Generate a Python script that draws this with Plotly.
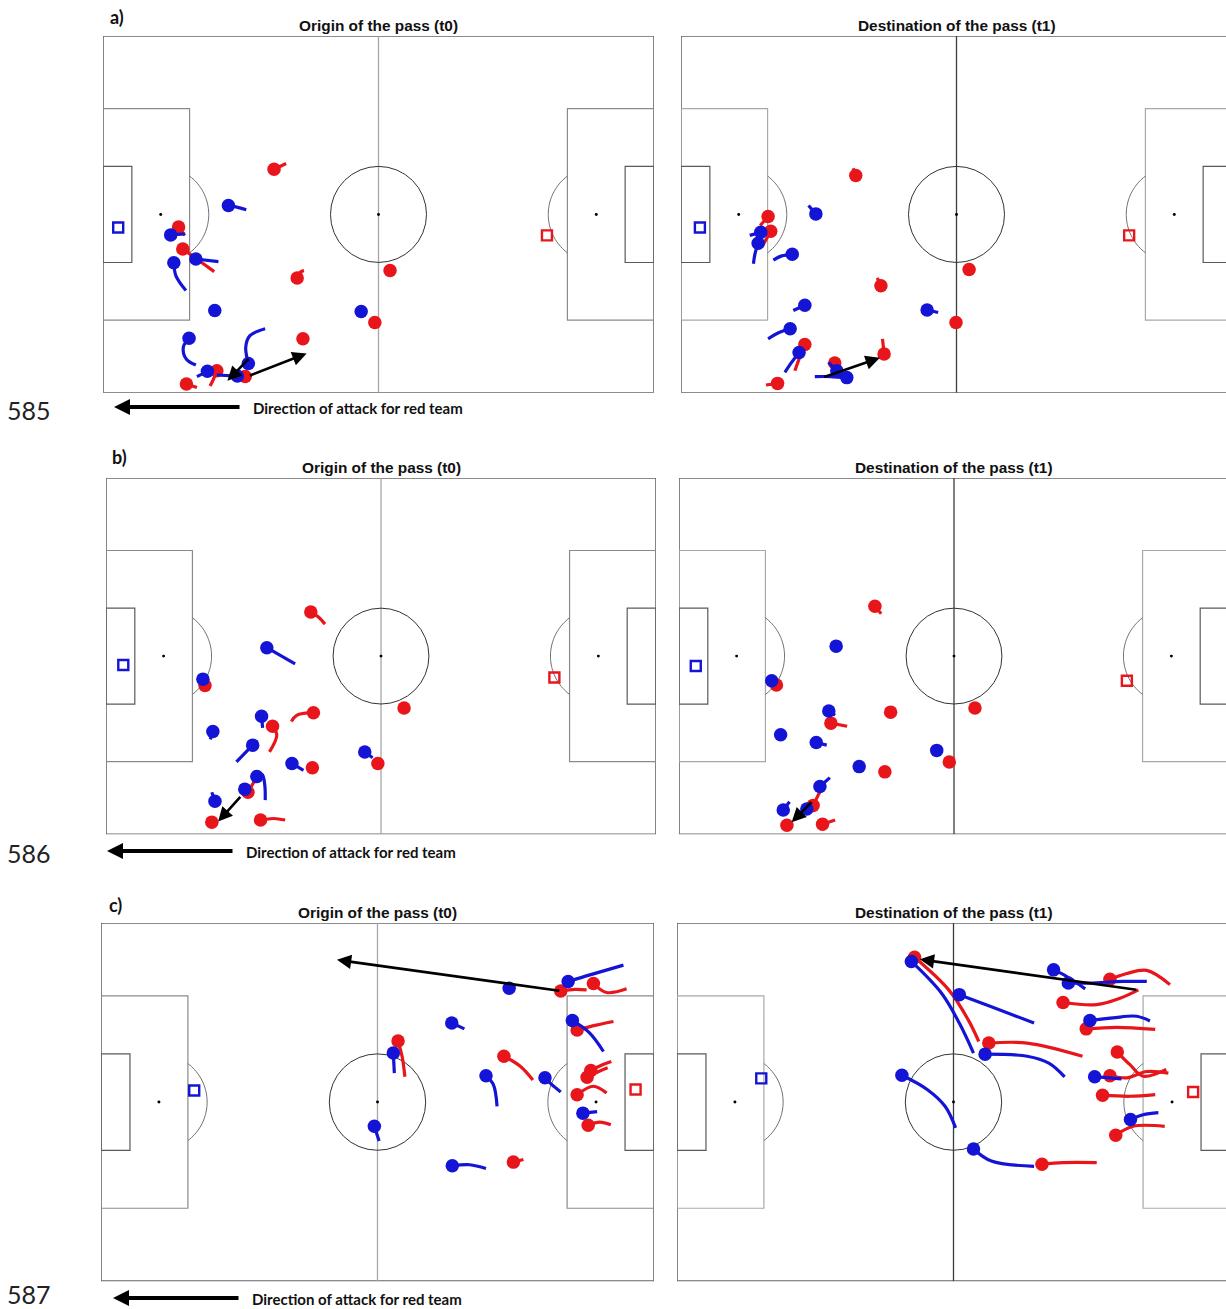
import numpy as np
import plotly.graph_objects as go

W, H = 1226, 1309
RED = '#e8161b'
BLUE = '#1414d6'
PITCH_L, PITCH_W = 105.0, 68.0

# ---------------------------------------------------------------------------
# Player tracks (metres, y measured from the top touchline).
# Each track starts at the player's position; the rest is the recent path.
# ---------------------------------------------------------------------------

# a) origin (t0)
A0_RED = [
    [(32.6, 25.4), (34.9, 24.3)],
    [(14.4, 36.4), (15.6, 38.0)],
    [(15.2, 40.6), (18.0, 42.6), (21.2, 44.9)],
    [(37.0, 46.1), (37.6, 45.0), (38.3, 44.7)],
    [(54.7, 44.7)],
    [(51.8, 54.6)],
    [(38.1, 57.7)],
    [(21.7, 63.8), (21.0, 65.5), (20.4, 66.7)],
    [(15.9, 66.3), (17.9, 67.0)],
    [(27.1, 64.9)],
]
A0_BLUE = [
    [(23.9, 32.3), (25.5, 32.6), (27.3, 33.1)],
    [(12.9, 37.9), (15.6, 37.7)],
    [(17.7, 42.5), (22.0, 43.0)],
    [(13.5, 43.2), (13.9, 45.7), (15.8, 48.5)],
    [(21.3, 52.3)],
    [(49.2, 52.5)],
    [(16.4, 57.6), (15.3, 59.3), (15.9, 61.6), (17.7, 62.7)],
    [(27.7, 62.4), (27.2, 59.3), (28.0, 57.1), (30.9, 55.8)],
    [(19.9, 63.9), (17.9, 64.9)],
    [(25.6, 64.8), (21.7, 64.6)],
]
A0_PASSES = [((28.0, 61.3), (23.7, 65.7)), ((27.7, 64.8), (38.8, 60.5))]
A0_KEEPERS = {'blue': (2.9, 36.5), 'red': (84.6, 38.0)}

# a) destination (t1)
A1_RED = [
    [(33.3, 26.6), (32.8, 25.2)],
    [(16.6, 34.4), (15.1, 36.1)],
    [(17.1, 37.2), (16.2, 38.8), (15.4, 40.2)],
    [(38.1, 47.6), (37.4, 46.1)],
    [(54.9, 44.5)],
    [(52.4, 54.6)],
    [(23.6, 58.8), (22.6, 61.3), (21.7, 63.8)],
    [(38.7, 60.6), (38.4, 57.7)],
    [(29.3, 62.3), (29.0, 63.5)],
    [(18.4, 66.2), (16.2, 66.5)],
]
A1_BLUE = [
    [(25.7, 33.9), (24.3, 32.3)],
    [(15.2, 37.4), (13.1, 38.0)],
    [(14.7, 39.5), (14.1, 41.5), (13.8, 43.4)],
    [(21.2, 41.6), (19.2, 41.9), (17.6, 42.7)],
    [(46.9, 52.2), (49.0, 52.7)],
    [(23.6, 51.3), (21.4, 52.3)],
    [(20.8, 55.8), (18.5, 56.6), (16.6, 57.7)],
    [(22.5, 60.3), (21.0, 62.3), (19.8, 64.1)],
    [(29.7, 63.8), (28.1, 62.2)],
    [(31.6, 65.1), (28.5, 64.9), (25.5, 64.9)],
]
A1_PASSES = [((27.0, 65.1), (37.9, 61.3))]
A1_KEEPERS = {'blue': (3.6, 36.5), 'red': (85.4, 38.0)}

# b) origin (t0)
B0_RED = [
    [(39.1, 25.6), (40.5, 26.5), (41.8, 27.9)],
    [(18.9, 39.6)],
    [(31.8, 47.4), (32.6, 49.1), (31.2, 52.3)],
    [(39.6, 44.8), (36.4, 45.3), (35.4, 46.5)],
    [(39.4, 55.3)],
    [(51.9, 54.5), (52.2, 55.3)],
    [(56.9, 43.9)],
    [(27.1, 60.0), (28.6, 57.4)],
    [(20.2, 65.7), (19.2, 66.2)],
    [(29.5, 65.3), (32.0, 65.0), (34.2, 65.3)],
]
B0_BLUE = [
    [(30.7, 32.4), (36.1, 35.5)],
    [(18.5, 38.4)],
    [(29.7, 45.5), (29.9, 47.7)],
    [(20.4, 48.4), (19.9, 49.9)],
    [(28.0, 51.0), (24.9, 54.2)],
    [(35.5, 54.5), (37.7, 55.8)],
    [(49.4, 52.3), (50.9, 53.4)],
    [(28.8, 57.0), (29.8, 56.6), (30.3, 58.5), (30.4, 61.5)],
    [(26.5, 59.4)],
    [(20.8, 61.7), (20.2, 60.0)],
]
B0_PASSES = [((25.9, 60.6), (21.4, 65.6))]
B0_KEEPERS = {'blue': (3.3, 35.7), 'red': (85.6, 38.1)}

# b) destination (t1)
B1_RED = [
    [(37.4, 24.5), (38.6, 25.9)],
    [(18.6, 39.5)],
    [(29.0, 46.8), (32.1, 47.4)],
    [(40.4, 44.7)],
    [(39.3, 56.1)],
    [(51.6, 54.2)],
    [(56.5, 43.9)],
    [(25.6, 62.5), (26.9, 59.9)],
    [(20.6, 66.3)],
    [(27.4, 66.1), (29.8, 65.3)],
]
B1_BLUE = [
    [(30.0, 32.1)],
    [(17.7, 38.7)],
    [(28.6, 44.5), (29.8, 45.3)],
    [(19.4, 49.0)],
    [(26.2, 50.5), (28.2, 51.0)],
    [(34.4, 55.1), (35.0, 54.6)],
    [(49.2, 52.0)],
    [(26.9, 58.9), (28.8, 57.2)],
    [(24.4, 63.2)],
    [(19.9, 63.4), (21.1, 61.8)],
]
B1_PASSES = [((25.6, 61.6), (21.5, 65.7))]
B1_KEEPERS = {'blue': (3.2, 35.9), 'red': (85.5, 38.7)}

# c) origin (t0)
C0_RED = [
    [(87.3, 12.9), (90.0, 12.6), (92.2, 12.7)],
    [(93.5, 11.5), (96.0, 13.2), (99.8, 12.5)],
    [(90.4, 20.3), (94.0, 19.4), (97.3, 18.7)],
    [(76.5, 25.3), (79.6, 27.2), (82.0, 29.8)],
    [(93.0, 28.0), (95.0, 27.0), (96.9, 26.3)],
    [(92.3, 29.3), (94.5, 28.2), (96.2, 27.5)],
    [(90.4, 32.6), (93.5, 31.0), (96.0, 32.3)],
    [(92.5, 38.4), (94.7, 37.8), (96.8, 38.3)],
    [(56.4, 22.4), (57.2, 25.5), (57.7, 29.2)],
    [(78.3, 45.4), (80.2, 44.9)],
]
C0_BLUE = [
    [(77.5, 12.4)],
    [(88.7, 11.1), (93.0, 9.8), (99.2, 8.0)],
    [(89.5, 18.5), (92.8, 20.9), (95.4, 24.4)],
    [(73.1, 29.0), (74.5, 30.7), (75.2, 34.8)],
    [(84.3, 29.4), (85.6, 30.7), (87.3, 32.1)],
    [(91.5, 36.1), (94.2, 35.8)],
    [(55.5, 24.7), (55.7, 28.5)],
    [(51.9, 38.6), (52.8, 41.4)],
    [(66.6, 19.0), (69.0, 20.1)],
    [(66.7, 46.1), (70.0, 45.9), (73.1, 46.6)],
]
C0_PASSES = [((87.3, 12.9), (44.8, 7.0))]
C0_KEEPERS = {'blue': (17.7, 31.8), 'red': (101.5, 31.6)}

# c) destination (t1)
C1_RED = [
    [(45.1, 6.5), (51.6, 12.7), (55.3, 18.4), (57.3, 22.5)],
    [(59.2, 22.8), (66.5, 22.8), (77.0, 25.3)],
    [(69.3, 45.8), (73.3, 45.5), (79.7, 45.5)],
    [(82.2, 10.7), (85.4, 9.6), (89.2, 9.0), (93.6, 11.7)],
    [(73.3, 15.1), (79.7, 15.5), (84.1, 14.3), (87.6, 12.7)],
    [(77.7, 20.1), (83.5, 19.8), (90.8, 20.2)],
    [(83.6, 24.5), (86.0, 26.9), (88.5, 29.1), (92.9, 27.8)],
    [(82.2, 29.0), (85.4, 29.4), (89.2, 28.2), (93.3, 28.5)],
    [(80.8, 32.7), (86.0, 32.9), (90.8, 32.6)],
    [(83.3, 40.3), (86.6, 38.6), (92.6, 38.6)],
]
C1_BLUE = [
    [(44.5, 7.3), (50.2, 13.3), (53.6, 19.0), (56.3, 24.7)],
    [(53.6, 13.6), (59.7, 15.9), (67.8, 19.0)],
    [(58.5, 24.9), (66.5, 25.3), (70.6, 26.6), (73.6, 29.2)],
    [(42.7, 28.9), (47.5, 31.6), (50.9, 34.8), (52.9, 38.9)],
    [(56.3, 42.9), (59.7, 45.2), (67.8, 46.2)],
    [(71.5, 8.9), (73.4, 9.8), (75.9, 11.4), (77.5, 12.5)],
    [(74.3, 11.4), (78.4, 11.4), (84.7, 11.1), (89.2, 11.1)],
    [(78.4, 18.5), (82.8, 18.0), (87.3, 17.7), (89.8, 18.6)],
    [(79.3, 29.2), (82.2, 29.4), (84.4, 29.6)],
    [(86.1, 37.3), (88.5, 36.4), (91.4, 36.0)],
]
C1_PASSES = [((87.5, 12.7), (46.1, 6.9))]
C1_KEEPERS = {'blue': (16.0, 29.5), 'red': (98.0, 32.1)}

ROW_LABELS = ['a)', 'b)', 'c)']
LINE_NUMBERS = ['585', '586', '587']
TITLE_T0 = 'Origin of the pass (t0)'
TITLE_T1 = 'Destination of the pass (t1)'
ATTACK_TEXT = 'Direction of attack for red team'

# Panel placement on the page (pixels): left edge, top edge, pixels per metre
PANELS = [
    dict(left=103, top=36, ppm=551 / 105, red=A0_RED, blue=A0_BLUE, passes=A0_PASSES, gk=A0_KEEPERS, title=TITLE_T0, dest=False),
    dict(left=681, top=36, ppm=551 / 105, red=A1_RED, blue=A1_BLUE, passes=A1_PASSES, gk=A1_KEEPERS, title=TITLE_T1, dest=True),
    dict(left=106, top=478, ppm=550 / 105, red=B0_RED, blue=B0_BLUE, passes=B0_PASSES, gk=B0_KEEPERS, title=TITLE_T0, dest=False),
    dict(left=679, top=478, ppm=550 / 105, red=B1_RED, blue=B1_BLUE, passes=B1_PASSES, gk=B1_KEEPERS, title=TITLE_T1, dest=True),
    dict(left=101, top=923, ppm=553 / 105, red=C0_RED, blue=C0_BLUE, passes=C0_PASSES, gk=C0_KEEPERS, title=TITLE_T0, dest=False),
    dict(left=677, top=923, ppm=553 / 105, red=C1_RED, blue=C1_BLUE, passes=C1_PASSES, gk=C1_KEEPERS, title=TITLE_T1, dest=True),
]
ROW_INFO = [  # label pos, line-number y, attack arrow (x0, x1, y), attack text x
    dict(label=(117, 17), num_y=410, arrow=(114, 241, 407), text_x=251),
    dict(label=(119, 457), num_y=853, arrow=(107, 234, 851), text_x=244),
    dict(label=(115, 905), num_y=1294, arrow=(113, 240, 1298), text_x=250),
]

fig = go.Figure()
shapes, annotations = [], []


def px(x):
    return x / W


def py(y):
    return 1 - y / H


def pitch_shapes(xr, yr, dest):
    border = dict(color='#666666', width=1.6)
    half = dict(color='#3c3c3c' if dest else '#a6a6a6', width=1.3)
    box = dict(color='#a8a8a8' if dest else '#8a8a8a', width=1.2)
    six = dict(color='#5a5a5a', width=1.2)
    circ = dict(color='#333333', width=1.0)
    out = []

    def add(kind, x0, y0, x1, y1, line, fill=None):
        d = dict(type=kind, xref=xr, yref=yr, x0=x0, y0=y0, x1=x1, y1=y1,
                 line=line, layer='below')
        if fill:
            d['fillcolor'] = fill
        out.append(d)

    add('rect', 0, 0, PITCH_L, PITCH_W, border)
    add('line', PITCH_L / 2, 0, PITCH_L / 2, PITCH_W, half)
    for x0, x1 in [(0, 16.5), (PITCH_L - 16.5, PITCH_L)]:
        add('rect', x0, 34 - 20.16, x1, 34 + 20.16, box)
    for x0, x1 in [(0, 5.5), (PITCH_L - 5.5, PITCH_L)]:
        add('rect', x0, 34 - 9.16, x1, 34 + 9.16, six)
    add('circle', PITCH_L / 2 - 9.15, 34 - 9.15, PITCH_L / 2 + 9.15, 34 + 9.15, circ)
    for sx in [11, PITCH_L / 2, PITCH_L - 11]:
        add('circle', sx - 0.28, 34 - 0.28, sx + 0.28, 34 + 0.28, dict(width=0), '#000000')
    # penalty arcs outside each box
    ang = np.linspace(-np.arccos(5.5 / 9.15), np.arccos(5.5 / 9.15), 40)
    for cx, sgn in [(11, 1), (PITCH_L - 11, -1)]:
        xs = cx + sgn * 9.15 * np.cos(ang)
        ys = 34 + 9.15 * np.sin(ang)
        path = 'M ' + ' L '.join(f'{a:.3f},{b:.3f}' for a, b in zip(xs, ys))
        out.append(dict(type='path', xref=xr, yref=yr, path=path,
                        line=dict(color='#707070', width=1.0), layer='below'))
    return out


for i, p in enumerate(PANELS, start=1):
    xa, ya = f'xaxis{i}', f'yaxis{i}'
    xr, yr = f'x{i}', f'y{i}'
    right_px = min(W, p['left'] + PITCH_L * p['ppm'])
    bottom_px = p['top'] + PITCH_W * p['ppm']
    x_max = (right_px - p['left']) / p['ppm']
    fig.update_layout({
        xa: dict(domain=[px(p['left']), px(right_px)], range=[0, x_max], visible=False,
                 fixedrange=True, anchor=yr),
        ya: dict(domain=[py(bottom_px), py(p['top'])], range=[PITCH_W, 0], visible=False,
                 fixedrange=True, anchor=xr),
    })
    shapes += pitch_shapes(xr, yr, p['dest'])

    # players: path first, then the dot on top
    for team, color in [('red', RED), ('blue', BLUE)]:
        for track in p[team]:
            xs = [pt[0] for pt in track]
            ys = [pt[1] for pt in track]
            if len(track) > 1:
                fig.add_trace(go.Scatter(x=xs, y=ys, mode='lines', xaxis=xr, yaxis=yr,
                                         line=dict(color=color, width=3.2, shape='spline'),
                                         hoverinfo='skip', showlegend=False))
            fig.add_trace(go.Scatter(x=[xs[0]], y=[ys[0]], mode='markers', xaxis=xr, yaxis=yr,
                                     marker=dict(color=color, size=13.5, line=dict(width=0)),
                                     hoverinfo='skip', showlegend=False))
    # goalkeepers as hollow squares
    for team, color in [('blue', BLUE), ('red', RED)]:
        gx, gy = p['gk'][team]
        fig.add_trace(go.Scatter(x=[gx], y=[gy], mode='markers', xaxis=xr, yaxis=yr,
                                 marker=dict(symbol='square-open', color=color, size=10,
                                             line=dict(width=2.4, color=color)),
                                 hoverinfo='skip', showlegend=False))
    # passes
    for (tx, ty), (hx, hy) in p['passes']:
        annotations.append(dict(x=hx, y=hy, ax=tx, ay=ty, xref=xr, yref=yr, axref=xr, ayref=yr,
                                text='', showarrow=True, arrowhead=2, arrowsize=1.1,
                                arrowwidth=2.6, arrowcolor='#000000'))
    # title above the pitch
    centre_px = p['left'] + PITCH_L * p['ppm'] / 2
    annotations.append(dict(x=px(centre_px), y=py(p['top'] - 11), xref='paper', yref='paper',
                            text=f"<b>{p['title']}</b>", showarrow=False,
                            xanchor='center', yanchor='middle',
                            font=dict(family='Liberation Sans, Arial', size=15.4, color='#111111')))

for r, info in enumerate(ROW_INFO):
    lx, ly = info['label']
    annotations.append(dict(x=px(lx), y=py(ly), xref='paper', yref='paper', text=f'<b>{ROW_LABELS[r]}</b>',
                            showarrow=False, xanchor='center', yanchor='middle',
                            font=dict(family='Lato, Liberation Sans', size=18, color='#111111')))
    annotations.append(dict(x=px(29), y=py(info['num_y']), xref='paper', yref='paper', text=LINE_NUMBERS[r],
                            showarrow=False, xanchor='center', yanchor='middle',
                            font=dict(family='Lato, Liberation Sans', size=25, color='#222222')))
    x0, x1, ay_px = info['arrow']
    annotations.append(dict(x=px(x0), y=py(ay_px), xref='paper', yref='paper',
                            ax=x1 - x0, ay=0, axref='pixel', ayref='pixel', text='', showarrow=True,
                            arrowhead=2, arrowsize=0.8, arrowwidth=4, arrowcolor='#000000'))
    annotations.append(dict(x=px(info['text_x']), y=py(ay_px + 1), xref='paper', yref='paper',
                            text=f'<b>{ATTACK_TEXT}</b>', showarrow=False, xanchor='left', yanchor='middle',
                            font=dict(family='Lato, Liberation Sans', size=15, color='#111111')))

fig.update_layout(width=W, height=H, margin=dict(l=0, r=0, t=0, b=0),
                  paper_bgcolor='white', plot_bgcolor='rgba(0,0,0,0)',
                  shapes=shapes, annotations=annotations, showlegend=False)

fig.write_html('out.html', config={'displayModeBar': False})
